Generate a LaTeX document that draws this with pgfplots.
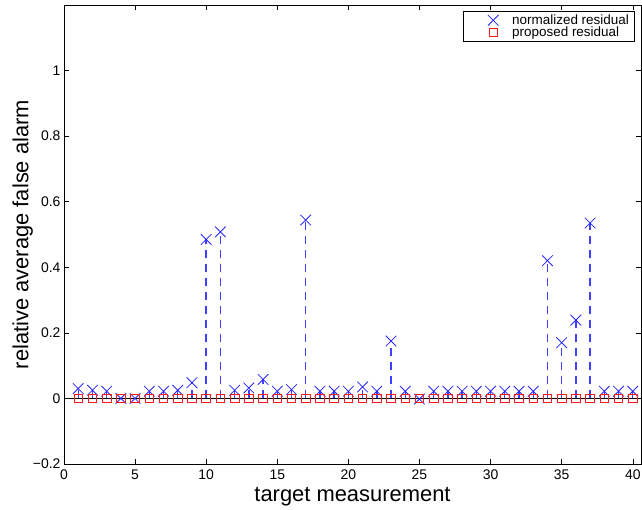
\documentclass[border=0pt]{standalone}
\usepackage{fontspec}
\setmainfont{Liberation Sans}
\usepackage{pgfplots}
\pgfplotsset{compat=1.18}
\usepackage{pgfplotstable}
\definecolor{mblue}{rgb}{0.15,0.15,1}
\definecolor{sblue}{rgb}{0.25,0.25,1}
\definecolor{mred}{rgb}{1,0.1,0.1}
\pgfplotstableread{
x y
1 0.030
2 0.025
3 0.022
4 0.000
5 0.000
6 0.022
7 0.022
8 0.025
9 0.048
10 0.485
11 0.508
12 0.025
13 0.032
14 0.058
15 0.022
16 0.027
17 0.544
18 0.022
19 0.022
20 0.022
21 0.035
22 0.022
23 0.175
24 0.022
25 -0.002
26 0.022
27 0.022
28 0.022
29 0.022
30 0.022
31 0.022
32 0.022
33 0.022
34 0.420
35 0.170
36 0.239
37 0.535
38 0.022
39 0.022
40 0.022
}\normres
\pgfplotstableread{
x y
1 0
2 0
3 0
4 0
5 0
6 0
7 0
8 0
9 0
10 0
11 0
12 0
13 0
14 0
15 0
16 0
17 0
18 0
19 0
20 0
21 0
22 0
23 0
24 0
25 0
26 0
27 0
28 0
29 0
30 0
31 0
32 0
33 0
34 0
35 0
36 0
37 0
38 0
39 0
40 0
}\propres
\begin{document}
\begin{tikzpicture}
\begin{axis}[
  scale only axis,
  width=577bp, height=459bp,
  xmin=0, xmax=40.58,
  ymin=-0.2, ymax=1.2,
  xtick={0,5,...,40},
  ytick={-0.2,0,0.2,0.4,0.6,0.8,1},
  yticklabels={−0.2,0,0.2,0.4,0.6,0.8,1},
  tick align=inside,
  major tick length=5bp,
  tick style={black, line width=0.5pt},
  axis line style={black, line width=0.6pt},
  /pgf/number format/assume math mode=true,
  tick label style={font=\fontsize{14}{14}\selectfont},
  xticklabel style={yshift=-2.5bp},
  xlabel={target measurement},
  ylabel={relative average false alarm},
  xlabel style={font=\fontsize{22}{22}\selectfont, at={(axis description cs:0.5,-0.050)}, anchor=north, inner sep=0pt},
  ylabel style={font=\fontsize{22}{22}\selectfont, at={(axis description cs:-0.0537,0.5)}, anchor=south, inner sep=0pt, rotate=0},
  legend style={at={(axis description cs:0.988,0.987)}, anchor=north east,
    font=\fontsize{13.5}{15.3}\selectfont, draw=black, line width=0.5pt,
    inner xsep=3bp, inner ysep=3bp, row sep=0pt,
    nodes={inner ysep=0.5bp},
    cells={anchor=west}},
  legend image code/.code={\path[draw=none,fill=none] (0bp,0bp) -- (44bp,0bp); \draw plot coordinates {(27bp,0bp)};},
  clip=false,
]
\addplot[black, line width=0.6pt, forget plot] coordinates {(0,0) (40.58,0)};
\addplot[ycomb, color=sblue, draw=sblue, line width=1.4bp, dash pattern=on 8bp off 6bp, forget plot] table[x=x,y=y] {\normres};
\addplot[only marks, color=mblue, mark=x, mark size=7.5bp, mark options={solid, line width=0.8bp}] table[x=x,y=y] {\normres};
\addplot[only marks, color=mred, mark=square, mark size=4.3bp, mark options={solid, line width=0.8bp}] table[x=x,y=y] {\propres};
\legend{normalized residual, proposed residual}
\end{axis}
\pgfresetboundingbox
\path ([shift={(-64bp,-46bp)}]current axis.south west) rectangle ([shift={(1bp,5bp)}]current axis.north east);
\end{tikzpicture}
\end{document}
